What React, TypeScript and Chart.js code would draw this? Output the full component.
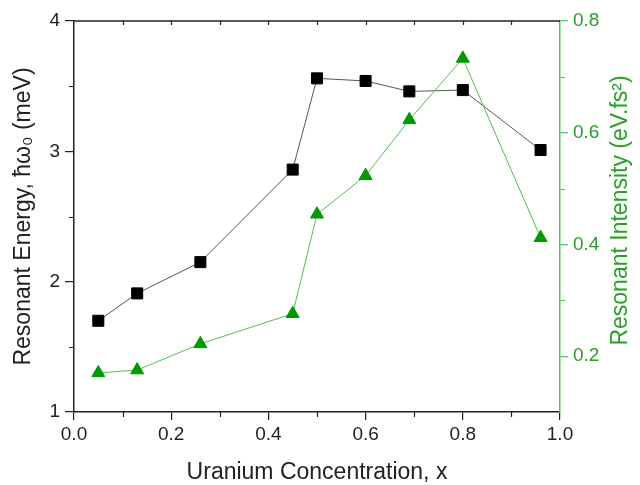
import React, { useEffect, useRef } from "react";
import { Chart, registerables } from "chart.js";

Chart.register(...registerables);

const concentration = [0.05, 0.13, 0.26, 0.45, 0.5, 0.6, 0.69, 0.8, 0.96];
const resonantEnergy = [1.7, 1.91, 2.15, 2.86, 3.56, 3.54, 3.46, 3.47, 3.01];
const resonantIntensity = [0.17, 0.175, 0.222, 0.276, 0.454, 0.523, 0.623, 0.733, 0.412];

const xMinorTicks = [0.1, 0.3, 0.5, 0.7, 0.9];
const xTopTicks = [0.1, 0.2, 0.3, 0.4, 0.5, 0.6, 0.7, 0.8, 0.9];
const yMinorTicks = [1.5, 2.5, 3.5];
const y2MinorTicks = [0.3, 0.5, 0.7];

const xTitle = "Uranium Concentration, x";
const yTitle = "Resonant Energy, ħω₀ (meV)";
const y2Title = "Resonant Intensity (eV.fs²)";

const FONT = "'Liberation Sans', Arial, Helvetica, sans-serif";
const DARK = "#222222";
const GREEN_AXIS = "#5cbf5c";
const GREEN_TEXT = "#2a9d2a";

const extrasPlugin = {
  id: "extras",
  afterDraw(chart: any) {
    const { ctx, chartArea: a, scales } = chart;
    const x = scales.x;
    const y = scales.y;
    const y2 = scales.y2;
    ctx.save();
    ctx.lineWidth = 1.5;
    // top frame line
    ctx.strokeStyle = DARK;
    ctx.beginPath();
    ctx.moveTo(a.left, a.top);
    ctx.lineTo(a.right, a.top);
    ctx.stroke();
    ctx.lineWidth = 1.2;
    ctx.beginPath();
    xTopTicks.forEach((v) => {
      const px = Math.round(x.getPixelForValue(v)) + 0.5;
      ctx.moveTo(px, a.top);
      ctx.lineTo(px, a.top + 4);
    });
    xMinorTicks.forEach((v) => {
      const px = Math.round(x.getPixelForValue(v)) + 0.5;
      ctx.moveTo(px, a.bottom);
      ctx.lineTo(px, a.bottom + 5);
    });
    yMinorTicks.forEach((v) => {
      const py = Math.round(y.getPixelForValue(v)) + 0.5;
      ctx.moveTo(a.left, py);
      ctx.lineTo(a.left - 5, py);
    });
    ctx.stroke();
    ctx.strokeStyle = GREEN_AXIS;
    ctx.beginPath();
    y2MinorTicks.forEach((v) => {
      const py = Math.round(y2.getPixelForValue(v)) + 0.5;
      ctx.moveTo(a.right, py);
      ctx.lineTo(a.right + 5, py);
    });
    ctx.stroke();
    // right axis title, reading bottom to top
    ctx.fillStyle = GREEN_TEXT;
    ctx.font = `23px ${FONT}`;
    ctx.textAlign = "center";
    ctx.textBaseline = "middle";
    ctx.translate(621, (a.top + a.bottom) / 2 - 6);
    ctx.rotate(-Math.PI / 2);
    ctx.fillText(y2Title, 0, 0);
    ctx.restore();
  },
};

export default function App() {
  const ref = useRef<HTMLCanvasElement | null>(null);

  useEffect(() => {
    document.body.style.margin = "0";
    const canvas = ref.current;
    if (!canvas) return;
    const energyPts = concentration.map((c, i) => ({ x: c, y: resonantEnergy[i] }));
    const intensityPts = concentration.map((c, i) => ({ x: c, y: resonantIntensity[i] }));
    const chart = new Chart(canvas, {
      type: "scatter",
      data: {
        datasets: [
          {
            label: "Resonant Intensity",
            data: intensityPts,
            yAxisID: "y2",
            showLine: true,
            borderColor: "#55bb55",
            borderWidth: 1,
            pointStyle: "triangle",
            pointRadius: 7.5,
            pointBackgroundColor: "#009900",
            pointBorderColor: "#009900",
            pointBorderWidth: 1,
            order: 0,
          },
          {
            label: "Resonant Energy",
            data: energyPts,
            yAxisID: "y",
            showLine: true,
            borderColor: "#555555",
            borderWidth: 1,
            pointStyle: "rect",
            pointRadius: 7.8,
            pointBackgroundColor: "#000000",
            pointBorderColor: "#000000",
            pointBorderWidth: 1,
            order: 1,
          },
        ],
      },
      options: {
        responsive: false,
        animation: false,
        events: [],
        layout: { padding: { top: 21, left: 0, right: 0, bottom: 0 } },
        plugins: { legend: { display: false }, tooltip: { enabled: false } },
        scales: {
          x: {
            type: "linear",
            position: "bottom",
            min: 0,
            max: 1,
            afterFit: (s: any) => {
              s.height = 73;
            },
            ticks: {
              stepSize: 0.2,
              callback: (v: any) => Number(v).toFixed(1),
              font: { family: FONT, size: 19 },
              color: DARK,
              padding: 3,
              maxRotation: 0,
            },
            grid: {
              drawOnChartArea: false,
              drawTicks: true,
              tickLength: 8,
              color: DARK,
              lineWidth: 1.2,
            },
            border: { display: true, color: DARK, width: 1.5 },
            title: {
              display: true,
              text: xTitle,
              font: { family: FONT, size: 23, lineHeight: 1 },
              color: DARK,
              padding: { top: 0, bottom: 1 },
            },
          },
          y: {
            type: "linear",
            position: "left",
            min: 1,
            max: 4,
            afterFit: (s: any) => {
              s.width = 74;
            },
            ticks: {
              stepSize: 1,
              font: { family: FONT, size: 19 },
              color: DARK,
              padding: 5,
            },
            grid: {
              drawOnChartArea: false,
              drawTicks: true,
              tickLength: 9,
              color: DARK,
              lineWidth: 1.2,
            },
            border: { display: true, color: DARK, width: 1.5 },
            title: {
              display: true,
              text: yTitle,
              font: { family: FONT, size: 23, lineHeight: 1 },
              color: DARK,
              padding: { top: 12, bottom: 0 },
            },
          },
          y2: {
            type: "linear",
            position: "right",
            min: 0.1,
            max: 0.8,
            afterFit: (s: any) => {
              s.width = 80;
            },
            ticks: {
              stepSize: 0.2,
              includeBounds: false,
              callback: (v: any) => Number(v).toFixed(1),
              font: { family: FONT, size: 19 },
              color: GREEN_TEXT,
              padding: 5,
            },
            grid: {
              drawOnChartArea: false,
              drawTicks: true,
              tickLength: 8,
              color: GREEN_AXIS,
              lineWidth: 1.2,
            },
            border: { display: true, color: GREEN_AXIS, width: 1.5 },
            title: { display: false },
          },
        },
      },
      plugins: [extrasPlugin],
    } as any);
    return () => chart.destroy();
  }, []);

  return (
    <div style={{ position: "absolute", left: 0, top: 0, width: 640, height: 485 }}>
      <canvas ref={ref} width={640} height={485} />
    </div>
  );
}
